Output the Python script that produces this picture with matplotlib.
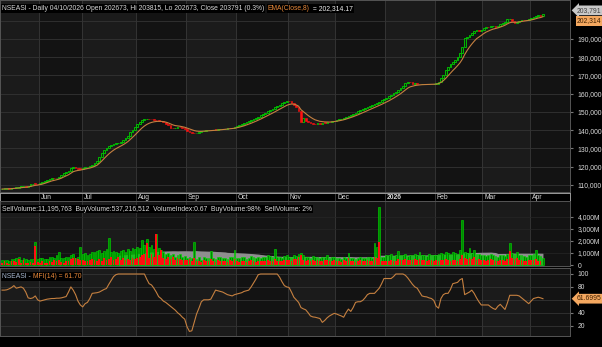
import numpy as np
import pandas as pd
import matplotlib
matplotlib.use("Agg")
import matplotlib.pyplot as plt
from matplotlib import font_manager
from matplotlib.ticker import FuncFormatter, FixedLocator

# ---- data ----
holidays = ["2025-06-06", "2025-06-09", "2025-06-12", "2025-09-05", "2025-10-01",
            "2025-12-25", "2025-12-26", "2026-01-01", "2026-03-20", "2026-03-23",
            "2026-04-03", "2026-04-06"]
dates = pd.bdate_range("2025-05-09", "2026-04-10")
dates = dates[~dates.isin(pd.to_datetime(holidays))]

close = [
    # May
    107800, 107900, 108100, 108000, 108300, 108500, 108600, 108900, 109000, 109200,
    109100, 109500, 110300, 110800, 110600, 110500,
    # Jun
    111000, 111500, 112300, 113000, 113300, 113800, 113600, 114000, 114500, 115500,
    116700, 117000, 117800, 119500, 120100, 119200, 118900, 118800,
    # Jul
    119400, 119700, 120000, 120300, 121000, 121900, 123000, 125500, 127500, 129200,
    130500, 131300, 131900, 132500, 132800, 133200, 133700, 134500, 135600, 137000,
    138800, 140300, 141800,
    # Aug
    143400, 144600, 145600, 146000, 146200, 146100, 145900, 145700, 145500, 145200,
    144800, 144300, 143500, 142600, 141500, 141000, 141200, 141800, 141600, 141000,
    140600,
    # Sep
    139600, 139100, 138600, 138300, 138500, 139000, 139400, 139800, 139900, 140100,
    140000, 140300, 140200, 140500, 140700, 140600, 140900, 141200, 141100, 141500,
    141800,
    # Oct
    142300, 142800, 143200, 143800, 144500, 145000, 145600, 146200, 146900, 147500,
    148200, 149000, 149600, 150300, 151000, 151800, 152600, 153300, 154000, 154800,
    155500, 156000,
    # Nov
    155800, 155200, 154000, 152500, 150800, 144500, 146500, 145200, 144600, 144000,
    143500, 143300, 143800, 143600, 144200, 144000, 144500, 144300, 144900, 145300,
    # Dec
    145600, 146000, 146300, 146800, 147400, 148000, 148500, 149000, 149700, 150300,
    151000, 151600, 152000, 152600, 153200, 153800, 154500, 155000, 155600, 156300,
    157000,
    # Jan
    157500, 158500, 159300, 160200, 161100, 162000, 163100, 164500, 165700, 166600,
    166200, 165500, 165600, 165400, 165300, 165500, 165200, 165100, 165300, 165200,
    165400,
    # Feb
    165600, 166500, 168500, 170500, 172800, 174800, 176500, 177600, 178500, 180300,
    182200, 185800, 190400, 191300, 192200, 193100, 194200, 195000, 194200, 195200,
    # Mar
    196300, 196700, 196500, 196900, 197100, 196800, 197300, 198200, 198600, 199500,
    200800, 201200, 200100, 199000, 199300, 200100, 200500, 200300, 200600, 200900,
    # Apr
    201300, 201800, 202400, 202900, 202673, 203791,
]

# volume in millions, total and sell part
volume = [
    380, 420, 450, 350, 520, 480, 600, 650, 420, 560, 500, 450, 480, 520, 1950, 520,
    550, 600, 520, 480, 700, 650, 580, 830, 1100, 600, 550, 650, 700, 850, 900, 620, 700, 1500,
    900, 1000, 850, 950, 1100, 1050, 1200, 1250, 1000, 1150, 1300, 2280, 1100, 1200, 1050,
    1000, 1150, 1250, 1100, 1300, 1200, 1400, 1300,
    1500, 1400, 2100, 1700, 2200, 1500, 1670, 1300, 2550, 1400, 1250, 1100, 900, 1000, 850,
    950, 700, 800, 900, 650, 750,
    600, 700, 550, 1950, 500, 650, 450, 700, 550, 600, 1150, 600, 500, 650, 700, 550, 600,
    500, 700, 650, 1250,
    600, 550, 700, 650, 500, 600, 750, 700, 550, 650, 600, 700, 650, 800, 750, 700, 1300,
    650, 700, 600, 750, 850,
    700, 650, 800, 750, 900, 1000, 800, 650, 700, 600, 750, 650, 700, 600, 650, 700, 800,
    600, 650, 700,
    550, 600, 500, 650, 550, 1030, 600, 550, 500, 600, 650, 550, 600, 700, 650, 600, 1800,
    1500, 4860, 700, 650,
    800, 850, 900, 750, 800, 1200, 850, 800, 900, 750, 800, 850, 900, 800, 1100, 850, 800,
    750, 900, 850, 800,
    850, 900, 1000, 950, 1100, 1000, 900, 1050, 1000, 950, 1250, 3750, 1100, 1000, 1390,
    1000, 1250, 900, 950, 850,
    800, 750, 850, 900, 800, 750, 700, 850, 800, 750, 900, 1860, 1000, 900, 1100, 850, 800,
    750, 700, 800,
    850, 900, 1250, 800, 750, 548.4,
]
sell_volume = [
    150, 300, 200, 120, 300, 350, 250, 500, 150, 400, 200, 150, 250, 200, 1600, 250,
    200, 350, 150, 200, 300, 250, 400, 300, 400, 250, 200, 300, 350, 500, 600, 550, 500, 400,
    400, 300, 350, 450, 500, 400, 300, 500, 350, 600, 450, 500, 700, 400, 500, 650, 400,
    600, 450, 500, 400, 600, 500,
    600, 700, 800, 900, 1800, 600, 900, 700, 2550, 800, 1250, 600, 500, 700, 500, 650, 400,
    600, 500, 400, 450,
    400, 500, 300, 600, 300, 350, 250, 400, 300, 350, 500, 300, 250, 400, 350, 300, 350,
    250, 400, 300, 500,
    300, 250, 350, 300, 250, 300, 400, 350, 250, 300, 300, 350, 300, 400, 350, 300, 500,
    300, 350, 300, 400, 450,
    400, 350, 500, 500, 700, 800, 400, 350, 400, 300, 400, 350, 400, 300, 350, 400, 450,
    300, 350, 400,
    300, 350, 250, 400, 300, 600, 350, 300, 250, 350, 400, 300, 350, 400, 350, 300, 700,
    600, 1950, 350, 300,
    300, 350, 400, 300, 350, 500, 450, 400, 500, 400, 450, 400, 500, 450, 500, 450, 400,
    350, 450, 400, 350,
    400, 350, 450, 400, 500, 400, 350, 450, 400, 350, 500, 800, 600, 500, 600, 500, 700,
    450, 500, 400,
    400, 350, 450, 500, 400, 350, 300, 450, 400, 350, 500, 1200, 600, 500, 550, 400, 450,
    350, 300, 400,
    400, 450, 500, 350, 300, 11.2,
]

mfi = [
    75, 75, 75.5, 77, 79, 82, 78, 79, 80, 78, 72, 63, 62, 63, 66, 60,
    58, 59, 60, 61, 61.5, 62, 62, 62.5, 62.5, 63, 64, 65, 72, 80, 75, 68, 58, 52,
    49, 54, 56, 62, 70, 70.5, 71, 72, 74, 76, 77.5, 84, 90, 96, 99, 100, 100, 100, 100, 100,
    100, 100, 100,
    100, 100, 100, 100, 92, 85, 83, 78, 72, 65, 62, 58, 56, 53, 50, 47, 44, 40, 37, 33, 30,
    18, 11, 12, 25, 38, 47, 57, 60, 60, 60, 61, 68, 75, 74, 73, 72, 70, 68, 67, 66, 68,
    69, 70, 71, 73, 74, 75, 80, 86, 92, 99, 100, 100, 100, 100, 100, 100, 100, 100, 95, 88,
    82, 80,
    79, 72, 64, 60, 56, 48, 46, 44.5, 40, 35, 33.5, 33, 32, 31, 25, 28, 32, 35, 37, 39,
    38, 36.4, 35, 33, 40, 45.6, 42, 48, 56, 57, 57, 59, 63, 68, 70, 70, 70, 74, 78, 85, 93,
    93, 93, 93, 96, 100, 100, 100, 100, 98, 94, 89, 84, 80, 78, 72, 66, 65, 64.5, 63, 62, 59,
    50, 47, 62, 68, 70, 70, 76, 85, 86, 87, 91, 93, 68, 70, 72, 75, 70, 63, 57, 52,
    52, 52, 52, 49, 46.6, 45, 50, 53, 49, 45, 55, 67, 67, 67, 67, 66, 63, 60, 57, 54,
    58, 62, 63, 64, 63, 61.6995,
]

month_labels = ["Jun", "Jul", "Aug", "Sep", "Oct", "Nov", "Dec", "2026", "Feb", "Mar", "Apr"]

df = pd.DataFrame({"close": close, "volume": volume, "sell": sell_volume, "mfi": mfi}, index=dates)
df["open"] = df["close"].shift(1).fillna(df["close"].iloc[0] - 100)
df["ema"] = df["close"].ewm(span=8, adjust=False).mean()
df["vol_ma"] = df["volume"].rolling(50).mean()
n = len(df)
x = np.arange(n)

# first trading day of each month
month_start = [i for i in range(1, n) if dates[i].month != dates[i - 1].month]


def pick_font():
    for name, size in [("Liberation Sans Narrow", 5.5), ("Liberation Sans", 4.9)]:
        try:
            font_manager.findfont(font_manager.FontProperties(family=name), fallback_to_default=False)
            return name, size
        except ValueError:
            pass
    return "DejaVu Sans", 4.4


FONT, FS = pick_font()
plt.rcParams["font.family"] = [FONT, "DejaVu Sans"]

BG = "#000000"
GRID = "#343434"
TXT = "#d8d8d8"
ORANGE = "#c58040"

fig = plt.figure(figsize=(6.02, 3.47), dpi=100, facecolor=BG)
W = 570 / 602


def pane(top, bottom):
    return fig.add_axes([0, 1 - bottom / 347, W, (bottom - top) / 347])


ax1 = pane(0, 192)
axd = pane(193, 201)
ax2 = pane(201, 266)
ax3 = pane(268, 336)

xl = (-0.86, 239.4)
bands = [0] + month_start + [n + 20]
for ax in (ax1, ax2, ax3):
    ax.set_facecolor("#161616")
    ax.set_xlim(*xl)
    for k in range(len(bands) - 1):
        c = "#1b1b1b" if k % 2 == 0 else "#131313"
        ax.axvspan(bands[k] - 0.5 if k else xl[0], bands[k + 1] - 0.5, color=c, lw=0, zorder=0)
    for m in month_start:
        ax.axvline(m - 0.5, color=GRID, lw=0.7, zorder=1)
    for s in ax.spines.values():
        s.set_color("#555555")
        s.set_linewidth(0.7)
    ax.yaxis.tick_right()
    ax.tick_params(axis="y", colors="#777777", labelcolor=TXT, labelsize=FS, length=2.5, pad=3)
    ax.tick_params(axis="x", bottom=False, labelbottom=False)

# ---- price pane ----
ax1.set_ylim(106160, 211370)
ax1.yaxis.set_major_locator(FixedLocator(np.arange(110000, 190001, 10000)))
ax1.yaxis.set_major_formatter(FuncFormatter(lambda v, p: f"{v:,.0f}"))
for v in np.arange(110000, 200001, 10000):
    ax1.axhline(v, color=GRID, lw=0.6, zorder=1)

up = df["close"] >= df["open"]
body = (df["close"] - df["open"]).abs().clip(lower=300)
lo = df[["close", "open"]].min(axis=1)
ax1.bar(x[up], body[up], bottom=lo[up], width=0.75, facecolor="#0a2a0a",
        edgecolor="#00d000", lw=0.6, zorder=3)
ax1.bar(x[~up], body[~up], bottom=lo[~up], width=0.75, facecolor="#ff1010",
        edgecolor="#ff1010", lw=0.4, zorder=3)
ax1.plot(x, df["ema"], color=ORANGE, lw=0.8, zorder=4)

box = dict(facecolor=BG, edgecolor="none", pad=0.6)
t = ax1.text(0.004, 0.975, "NSEASI - Daily 04/10/2026 Open 202673, Hi 203815, Lo 202673, Close 203791 (0.3%)",
             transform=ax1.transAxes, color=TXT, fontsize=FS, va="top", ha="left", bbox=box, zorder=6)
fig.canvas.draw()
bb = t.get_window_extent().transformed(ax1.transAxes.inverted())
t2 = ax1.text(bb.x1 + 0.006, 0.975, "EMA(Close,8)", transform=ax1.transAxes, color="#e8893a",
              fontsize=FS, va="top", ha="left", bbox=box, zorder=7)
fig.canvas.draw()
bb2 = t2.get_window_extent().transformed(ax1.transAxes.inverted())
ax1.text(bb2.x1 + 0.002, 0.975, " = 202,314.17", transform=ax1.transAxes, color="#f0f0f0",
         fontsize=FS, va="top", ha="left", bbox=box, zorder=6)

ax1.annotate(f"{df['close'].iloc[-1]:,.0f}", xy=(1.0, df["close"].iloc[-1]),
             xycoords=("axes fraction", "data"), xytext=(5, 2.5), textcoords="offset points",
             color="#404040", fontsize=FS, va="center", ha="left",
             bbox=dict(boxstyle="larrow,pad=0.2", facecolor="#c8c8c8", edgecolor="none"),
             annotation_clip=False)
ax1.annotate("202,314", xy=(1.0, df["ema"].iloc[-1]),
             xycoords=("axes fraction", "data"), xytext=(5, -3), textcoords="offset points",
             color="#402000", fontsize=FS, va="center", ha="left",
             bbox=dict(boxstyle="square,pad=0.2", facecolor="#f4a860", edgecolor="none"),
             annotation_clip=False)

# ---- date strip ----
axd.set_facecolor(BG)
axd.set_xlim(*xl)
axd.set_ylim(0, 1)
axd.set_xticks([])
axd.set_yticks([])
for s in axd.spines.values():
    s.set_color("#9a9a9a")
    s.set_linewidth(0.7)
for m, lab in zip(month_start, month_labels):
    axd.axvline(m - 0.5, color=GRID, lw=0.7)
    axd.text(m + 0.3, 0.45, lab, color=TXT, fontsize=FS, va="center", ha="left",
             fontweight="bold" if lab == "2026" else "normal")

# ---- volume pane ----
ax2.set_ylim(-80, 5330)
ax2.yaxis.set_major_locator(FixedLocator([0, 1000, 2000, 3000, 4000]))
ax2.yaxis.set_major_formatter(FuncFormatter(lambda v, p: "0" if v == 0 else f"{v:,.0f}M"))
for v in [1000, 2000, 3000, 4000]:
    ax2.axhline(v, color="#262626", lw=0.5, zorder=1)
ax2.fill_between(x, 0, df["vol_ma"], color="#8e8e8e", lw=0, zorder=2)
ax2.bar(x, df["volume"], width=0.75, facecolor="#008a00", edgecolor="#00e000", lw=0.4, zorder=3)
ax2.bar(x, df["sell"], width=0.75, color="#ff1010", lw=0, zorder=4)
ax2.text(0.004, 0.93, "SellVolume:11,195,763  BuyVolume:537,216,512  VolumeIndex:0.67  BuyVolume:98%  SellVolume: 2%",
         transform=ax2.transAxes, color=TXT, fontsize=FS, va="top", ha="left", bbox=box, zorder=6)

# ---- MFI pane ----
ax3.set_ylim(3.9, 109.3)
ax3.yaxis.set_major_locator(FixedLocator([20, 40, 80, 100]))
for v in [20, 40, 60, 80, 100]:
    ax3.axhline(v, color=GRID, lw=0.6, zorder=1)
ax3.plot(x, df["mfi"], color=ORANGE, lw=0.8, zorder=3)
t = ax3.text(0.004, 0.93, "NSEASI - ", transform=ax3.transAxes, color="#a8b8d0", fontsize=FS,
             va="top", ha="left", bbox=box, zorder=6)
fig.canvas.draw()
bb = t.get_window_extent().transformed(ax3.transAxes.inverted())
ax3.text(bb.x1, 0.93, "MFI(14) = 61.70", transform=ax3.transAxes, color="#e8893a", fontsize=FS,
         va="top", ha="left", bbox=box, zorder=6)
ax3.annotate(f"{df['mfi'].iloc[-1]:.4f}", xy=(1.0, df["mfi"].iloc[-1]),
             xycoords=("axes fraction", "data"), xytext=(5, 0), textcoords="offset points",
             color="#402000", fontsize=FS, va="center", ha="left",
             bbox=dict(boxstyle="larrow,pad=0.2", facecolor="#f4a860", edgecolor="none"),
             annotation_clip=False)

fig.savefig("out.png", dpi=100, facecolor=BG)
